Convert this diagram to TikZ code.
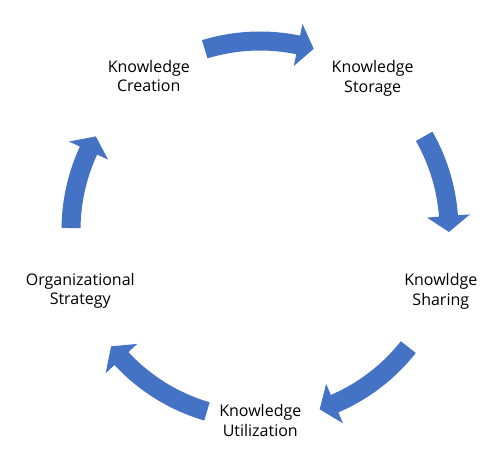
\documentclass[tikz,border=0pt]{standalone}
\usepackage{fontspec}
\setmainfont{Open Sans}
\usetikzlibrary{calc}
\definecolor{arrowblue}{HTML}{4472C4}
\newcommand{\cycarrow}[2]{% tail angle, tip angle
  \pgfmathsetmacro{\arrdir}{(#2>#1)*2-1}%
  \pgfmathsetmacro{\arrbase}{#2-\arrdir*4.85}%
  \fill[arrowblue] ($(c)+(#1:198.5)$) arc[start angle=#1, end angle=\arrbase, radius=198.5]
    -- ($(c)+(\arrbase:210.5)$) -- ($(c)+(#2:189)$) -- ($(c)+(\arrbase:167.5)$)
    -- ($(c)+(\arrbase:179.5)$) arc[start angle=\arrbase, end angle=#1, radius=179.5] -- cycle;}
\tikzset{lbl/.style={font=\fontsize{12}{14.6}\selectfont, align=center, inner sep=0pt, anchor=north, text=black}}
\begin{document}
\begin{tikzpicture}[x=0.75pt,y=0.75pt]
\useasboundingbox[fill=white] (0,0) rectangle (500,462);
\coordinate (c) at (260,232);
\node[lbl] (creation) at (148.8,402.15) {Knowledge\\Creation};
\node[lbl] (storage) at (372.7,401.85) {Knowledge\\Storage};
\node[lbl] (sharing) at (440.8,188.5) {Knowldge\\Sharing};
\node[lbl] (utilization) at (260.3,57.5) {Knowledge\\Utilization};
\node[lbl] (strategy) at (80.3,189.2) {Organizational\\Strategy};
\cycarrow{107}{73.5}
\cycarrow{29.7}{-0.6}
\cycarrow{-38.3}{-71.6}
\cycarrow{253.7}{218}
\cycarrow{179.4}{150.3}
\end{tikzpicture}
\end{document}
